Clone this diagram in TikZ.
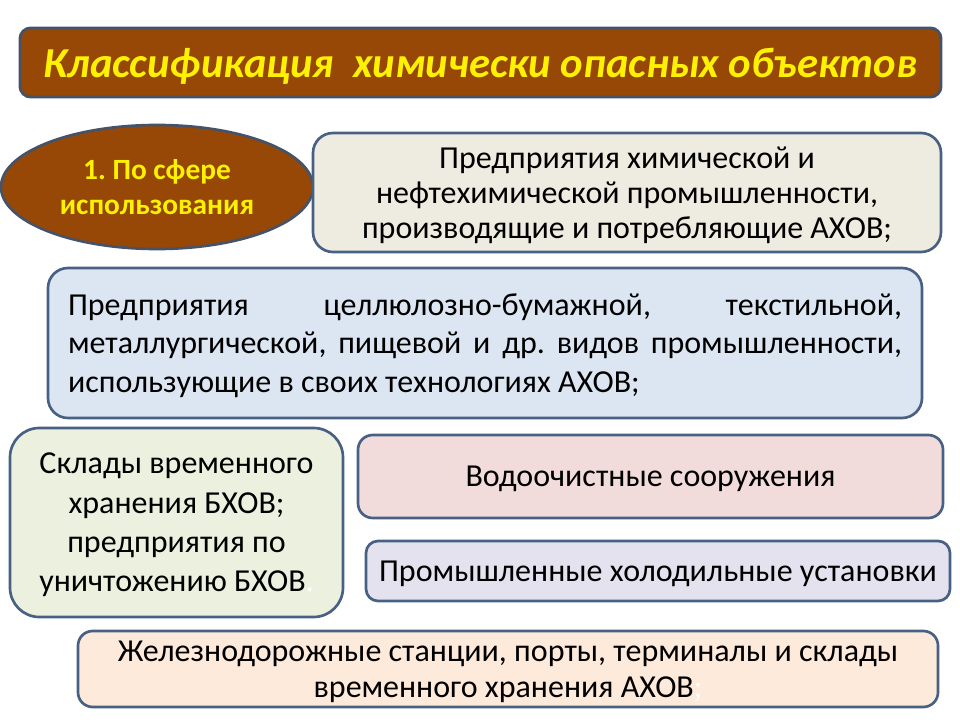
\documentclass[tikz,border=0pt]{standalone}
\usepackage{fontspec}
\setmainfont{Carlito}
\frenchspacing
\usetikzlibrary{shapes.geometric}
\definecolor{titlebrown}{RGB}{152,72,6}
\definecolor{edgeblue}{RGB}{72,96,132}
\definecolor{titleedge}{RGB}{70,82,104}
\definecolor{fillbeige}{RGB}{238,236,225}
\definecolor{fillblue}{RGB}{220,230,242}
\definecolor{fillgreen}{RGB}{235,241,222}
\definecolor{fillrose}{RGB}{242,220,219}
\definecolor{filllilac}{RGB}{228,226,238}
\definecolor{fillpeach}{RGB}{253,234,218}
\begin{document}
\begin{tikzpicture}[x=0.75pt,y=-0.75pt]
        \tikzstyle{infobox} = [rectangle, rounded corners=15pt, draw=edgeblue, line width=2pt, inner sep=0pt, align=center, text depth=-3pt, font=\fontsize{24}{28}\selectfont]
        \tikzstyle{titlebox} = [rectangle, rounded corners=8pt, draw=titleedge, line width=2.2pt, fill=titlebrown, text=yellow, inner sep=0pt, text depth=0pt, font=\fontsize{32}{36}\bfseries\itshape\selectfont]

        \useasboundingbox (0,0) rectangle (960,720);

        \node (title) [titlebox, minimum width=690.75pt, minimum height=51.75pt] at (480.5,62.5) {Классификация~~химически опасных объектов};
        \node (sphere) [ellipse, draw=titleedge, line width=2pt, fill=titlebrown, text=yellow, inner sep=0pt, minimum width=234pt, minimum height=93pt, align=center, text depth=0pt, font=\fontsize{22}{26.25}\bfseries\selectfont] at (157,187) {1. По сфере\\использования};

        \node (chem) [infobox, fill=fillbeige, minimum width=471pt, minimum height=89.25pt, font=\fontsize{24}{26.25}\selectfont] at (627,192.5) {Предприятия химической и\\нефтехимической промышленности,\\производящие и потребляющие АХОВ;};
        \node (paper) [infobox, fill=fillblue, minimum width=655.5pt, minimum height=112.5pt, align=left, font=\fontsize{24}{29}\selectfont] at (485,343) {\hbox to 625.5pt{Предприятия\hfill целлюлозно-бумажной,\hfill текстильной,}\\\hbox to 625.5pt{металлургической, \hfill пищевой \hfill и \hfill др. \hfill видов \hfill промышленности,}\\\hbox{использующие в своих технологиях АХОВ;}};
        \node (store) [infobox, rounded corners=22pt, fill=fillgreen, minimum width=249.75pt, minimum height=141.75pt, text depth=-5pt, font=\fontsize{24}{29.5}\selectfont] at (176.5,522.5) {Склады временного\\хранения БХОВ;\\предприятия по\\уничтожению БХОВ\textcolor{white}{.}};
        \node (water) [infobox, rounded corners=11pt, fill=fillrose, minimum width=438.75pt, minimum height=62.25pt, text depth=-8pt] at (650.5,476.5) {Водоочистные сооружения};
        \node (cold) [infobox, rounded corners=9pt, fill=filllilac, minimum width=438pt, minimum height=45pt, text depth=-5pt] at (658,571) {Промышленные холодильные установки};
        \node (rail) [infobox, rounded corners=11pt, fill=fillpeach, minimum width=645pt, minimum height=57pt, text depth=-8pt, font=\fontsize{24}{27}\selectfont] at (508,669) {Железнодорожные станции, порты, терминалы и склады\\временного хранения АХОВ\textcolor{white}{;}};
    \end{tikzpicture}
\end{document}
